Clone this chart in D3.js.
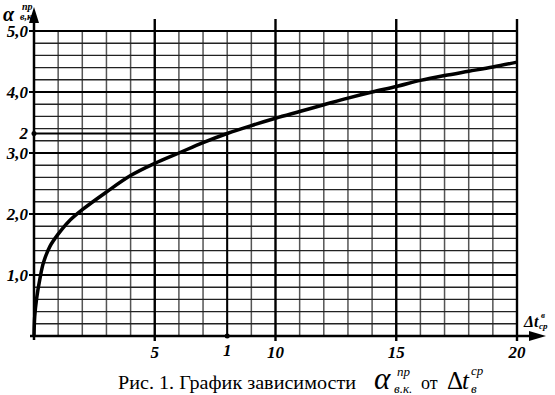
<!DOCTYPE html>
<html lang="ru">
<head>
<meta charset="utf-8">
<script src="https://d3js.org/d3.v7.min.js"></script>
<style>
    body { margin: 0; background: #fff; }
    text { font-family: "Liberation Serif", "DejaVu Serif", serif; fill: #000; }
    .tick-lbl { font-weight: bold; font-style: italic; font-size: 17px; }
</style>
</head>
<body>
<div id="chart"></div>
<script>
    // chart data
    const xTicks = [5, 10, 15, 20];
    const yTicks = [1, 2, 3, 4, 5];
    const yTickLabels = ["1,0", "2,0", "3,0", "4,0", "5,0"];
    const curveX = [0, 0.03, 0.11, 0.25, 0.39, 0.66, 1, 1.42, 2, 3, 4, 5, 6, 7, 8, 9, 10, 11, 12, 13, 14, 15, 16, 17, 18, 19, 20];
    const curveY = [0, 0.32, 0.62, 0.95, 1.2, 1.47, 1.67, 1.87, 2.07, 2.36, 2.63, 2.83, 3.0, 3.17, 3.32, 3.45, 3.57, 3.68, 3.79, 3.9, 4.0, 4.09, 4.19, 4.27, 4.34, 4.41, 4.49];
    const markX = 8, markY = 3.32;
    const markLabels = ["1", "2"];

    const W = 555, H = 395;
    const svg = d3.select("#chart").append("svg").attr("width", W).attr("height", H);

    const x = d3.scaleLinear().domain([0, 20]).range([34, 517]);
    const y = d3.scaleLinear().domain([0, 5]).range([336, 31]);

    // grid
    const g = svg.append("g");
    g.selectAll(".vmin").data(d3.range(1, 20).filter(d => d % 5 !== 0))
        .enter().append("line")
        .attr("x1", d => x(d)).attr("x2", d => x(d))
        .attr("y1", y(0)).attr("y2", y(5))
        .attr("stroke", "#555").attr("stroke-width", 1.5);
    g.selectAll(".hmin").data(d3.range(1, 25).filter(d => d % 5 !== 0).map(d => d / 5))
        .enter().append("line")
        .attr("x1", x(0)).attr("x2", x(20))
        .attr("y1", d => y(d)).attr("y2", d => y(d))
        .attr("stroke", "#222").attr("stroke-width", 1.4);
    g.selectAll(".hmaj").data(yTicks)
        .enter().append("line")
        .attr("x1", x(0) - 5).attr("x2", x(20))
        .attr("y1", d => y(d)).attr("y2", d => y(d))
        .attr("stroke", "#000").attr("stroke-width", 2.2);
    g.selectAll(".vmaj").data(xTicks)
        .enter().append("line")
        .attr("x1", d => x(d)).attr("x2", d => x(d))
        .attr("y1", y(0) + 5).attr("y2", 19)
        .attr("stroke", "#000").attr("stroke-width", 2.4);

    // axes with arrows
    svg.append("line").attr("x1", x(0)).attr("x2", x(0))
        .attr("y1", y(0) + 4).attr("y2", 20)
        .attr("stroke", "#000").attr("stroke-width", 2.5);
    svg.append("path").attr("d", `M${x(0)},7 L${x(0) - 5},23 L${x(0) + 5},23 Z`).attr("fill", "#000");
    svg.append("line").attr("x1", x(0) - 4).attr("x2", 530)
        .attr("y1", y(0)).attr("y2", y(0))
        .attr("stroke", "#000").attr("stroke-width", 2.5);
    svg.append("path").attr("d", `M546,${y(0)} L529,${y(0) - 5} L529,${y(0) + 5} Z`).attr("fill", "#000");

    // tick labels
    svg.selectAll(".ylbl").data(yTicks).enter().append("text")
        .attr("class", "tick-lbl").attr("text-anchor", "end")
        .attr("x", 28).attr("y", d => y(d) + 6)
        .text((d, i) => yTickLabels[i]);
    svg.selectAll(".xlbl").data(xTicks).enter().append("text")
        .attr("class", "tick-lbl").attr("text-anchor", "middle")
        .attr("x", d => x(d)).attr("y", 358)
        .text(d => d);

    // curve
    const pts = curveX.map((d, i) => [d, curveY[i]]);
    svg.append("path").datum(pts)
        .attr("d", d3.line().x(d => x(d[0])).y(d => y(d[1])).curve(d3.curveCatmullRom.alpha(0.5)))
        .attr("fill", "none").attr("stroke", "#000").attr("stroke-width", 3.5);

    // marker lines
    svg.append("path")
        .attr("d", `M${x(0)},${y(markY)} H${x(markX)} V${y(0)}`)
        .attr("fill", "none").attr("stroke", "#000").attr("stroke-width", 2);
    svg.append("circle").attr("cx", x(markX)).attr("cy", y(0)).attr("r", 2.5).attr("fill", "#000");
    svg.append("circle").attr("cx", x(0)).attr("cy", y(markY)).attr("r", 2.5).attr("fill", "#000");
    svg.append("text").attr("class", "tick-lbl").attr("text-anchor", "middle")
        .attr("x", x(markX)).attr("y", 356).text(markLabels[0]);
    svg.append("text").attr("class", "tick-lbl").attr("text-anchor", "end")
        .attr("x", 28).attr("y", y(markY) + 6).text(markLabels[1]);

    // axis titles
    function put(px, py, size, txt, bold, italic) {
        return svg.append("text").attr("x", px).attr("y", py)
            .style("font-size", size + "px")
            .style("font-weight", bold ? "bold" : "normal")
            .style("font-style", italic ? "italic" : "normal")
            .text(txt);
    }
    put(3, 21, 20, "α", true, true);
    put(22, 10, 10, "пр", true, true);
    put(20, 20, 10, "в,к", true, true);

    put(524, 327, 16, "Δt", true, true);
    put(541, 318, 9, "в", true, true);
    put(539, 329, 9, "ср", true, true);

    // caption
    put(118, 389, 18, "Рис. 1. График зависимости", false, false)
        .attr("textLength", 238).attr("lengthAdjust", "spacingAndGlyphs");
    put(374, 389, 31, "α", false, true);
    put(397, 376, 13, "пр", false, true);
    put(394, 393, 13, "в.к.", false, true);
    put(421, 389, 18, "от", false, false);
    put(447, 389, 25, "Δ", false, false);
    put(462, 389, 25, "t", false, true);
    put(471, 375, 13, "ср", false, true);
    put(471, 393, 13, "в", false, true);
</script>
</body>
</html>
